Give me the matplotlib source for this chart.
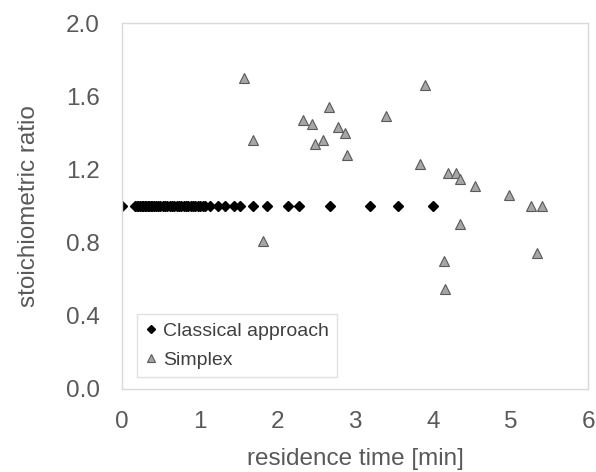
import matplotlib
matplotlib.use("Agg")
import matplotlib.pyplot as plt

plt.rcParams['font.family'] = ['Liberation Sans', 'DejaVu Sans']

# classical approach: all at ratio 1.0
classical_t = [0.0,
               0.17, 0.19, 0.21, 0.23, 0.25, 0.27, 0.29, 0.31, 0.33, 0.35,
               0.37, 0.39, 0.41, 0.43, 0.46, 0.49, 0.52, 0.55, 0.58, 0.61,
               0.64, 0.67, 0.70, 0.73, 0.76, 0.79, 0.82, 0.85, 0.88, 0.91,
               0.94, 0.97, 1.00, 1.04, 1.07,
               1.13, 1.23, 1.33, 1.44, 1.52, 1.68, 1.87, 2.13, 2.28, 2.67,
               3.19, 3.55, 4.00]
classical_r = [1.0] * len(classical_t)

# simplex points
simplex_t = [1.57, 2.66, 2.33, 2.45, 2.78, 2.87, 1.68, 2.59, 2.48, 2.89, 1.81,
             3.90, 3.39, 3.83, 4.19, 4.30, 4.35, 4.54, 4.98, 5.26, 5.40,
             4.35, 5.34, 4.14, 4.16]
simplex_r = [1.70, 1.54, 1.47, 1.45, 1.43, 1.40, 1.36, 1.36, 1.34, 1.28, 0.81,
             1.66, 1.49, 1.23, 1.18, 1.18, 1.15, 1.11, 1.06, 1.00, 1.00,
             0.90, 0.745, 0.70, 0.545]

fig = plt.figure(figsize=(5.96, 4.72), dpi=100)
ax = fig.add_axes([0.205, 0.176, 0.782, 0.775])

ax.plot(classical_t, classical_r, linestyle='none', marker='D', markersize=5.5,
        color='black', label='Classical approach')
ax.plot(simplex_t, simplex_r, linestyle='none', marker='^', markersize=7.5,
        markerfacecolor='#a6a6a6', markeredgecolor='#595959', markeredgewidth=0.8,
        label='Simplex')

ax.set_xlim(0, 6)
ax.set_ylim(0, 2.0)
ax.set_xticks(range(0, 7))
ax.set_yticks([0.0, 0.4, 0.8, 1.2, 1.6, 2.0])
ax.set_yticklabels(['0.0', '0.4', '0.8', '1.2', '1.6', '2.0'])
ax.tick_params(length=0, labelsize=17.5, labelcolor='#595959', pad=16)

for s in ax.spines.values():
    s.set_color('#d9d9d9')
    s.set_linewidth(1)

ax.set_xlabel('residence time [min]', fontsize=17.5, color='#595959', labelpad=11)
ax.set_ylabel('stoichiometric ratio', fontsize=17.5, color='#595959', labelpad=19)

leg = ax.legend(loc='lower left', bbox_to_anchor=(0.032, 0.033), fontsize=14,
                frameon=True, fancybox=False, markerscale=0.7,
                handlelength=0.6, handletextpad=0.35, borderpad=0.4,
                labelspacing=0.6, borderaxespad=0)
leg.get_frame().set_edgecolor('#d9d9d9')
leg.get_frame().set_linewidth(1)
for t in leg.get_texts():
    t.set_color('#404040')

fig.savefig('out.png', dpi=100)
